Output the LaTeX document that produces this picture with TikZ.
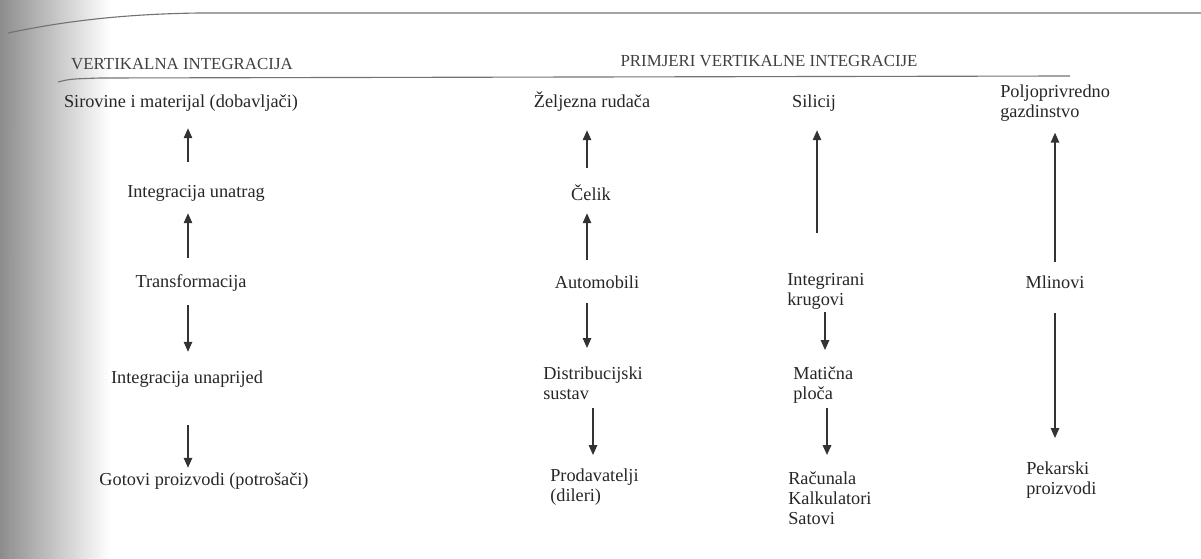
\documentclass[tikz,border=0pt]{standalone}
\usepackage{fontspec}
\setmainfont{Liberation Serif}
\usetikzlibrary{positioning}
\usetikzlibrary{arrows.meta}
\tikzset{
    lbl/.style={inner sep=0pt, anchor=base, text height=9.5pt, text depth=3pt,
                font=\fontsize{13}{14.2}\selectfont, text=black!85},
    mlbl/.style={inner sep=0pt, anchor=north west, align=left,
                font=\fontsize{13}{14.2}\selectfont, text=black!85},
    head/.style={inner sep=0pt, anchor=base, font=\fontsize{12}{14}\selectfont, text=black!75},
    arr/.style={draw=black!80, line width=0.9pt, -{Triangle[length=7pt,width=6pt]}},
    rule/.style={draw=black!55, line width=0.8pt}
}

\begin{document}
\begin{tikzpicture}[x=0.25mm, y=-0.25mm]
            \useasboundingbox (0,0) rectangle (1201,559);
            % scanned page edge
            \shade[left color=black!45, right color=white] (0,0) rectangle (110,559);
            \draw[draw=black!40, line width=1pt] (14,32) -- (14,125);
            \draw[draw=black!40, line width=1pt] (10,258) -- (10,559);
            \draw[rule] (8,33) .. controls (60,22) and (120,14) .. (200,13) -- (1201,13);
            \draw[rule] (58,82) .. controls (70,79) .. (100,78) -- (1070,76);

            \node (vi) [head] at (182,70)  {VERTIKALNA INTEGRACIJA};
            \node (pv) [head] at (769,67)  {PRIMJERI VERTIKALNE INTEGRACIJE};

            % columns of the arrows
            \coordinate (c1) at (188,0);
            \coordinate (c2) at (587,0);
            \coordinate (c2b) at (593,0);
            \coordinate (c3) at (817,0);
            \coordinate (c3b) at (825,0);
            \coordinate (c3c) at (827,0);
            \coordinate (c4) at (1055,0);

            % vertikalna integracija
            \node (sir)   [lbl] at (181,108) {Sirovine i materijal (dobavljači)};
            \node (unat)  [lbl] at (196,198) {Integracija unatrag};
            \node (trans) [lbl] at (191,287) {Transformacija};
            \node (unap)  [lbl] at (187,383) {Integracija unaprijed};
            \node (got)   [lbl] at (204,485) {Gotovi proizvodi (potrošači)};

            \draw[arr, shorten <=5.65mm, shorten >=3.95mm] (unat.north -| c1)  -- (sir.south -| c1);
            \draw[arr, shorten <=3.9mm,  shorten >=2.7mm]  (trans.north -| c1) -- (unat.south -| c1);
            \draw[arr, shorten <=3.45mm, shorten >=4.4mm]  (trans.south -| c1) -- (unap.north -| c1);
            \draw[arr, shorten <=9.45mm, shorten >=0.9mm]  (unap.south -| c1)  -- (got.north -| c1);

            % zeljezo
            \node (zel)  [lbl]  at (592,108)   {Željezna rudača};
            \node (cel)  [lbl]  at (591,201)   {Čelik};
            \node (auto) [lbl]  at (597,288)   {Automobili};
            \node (dist) [mlbl] at (543,366.6) {Distribucijski\\sustav};
            \node (prod) [mlbl] at (550,468.6) {Prodavatelji\\(dileri)};

            \draw[arr, shorten <=4.9mm,  shorten >=4.45mm] (cel.north -| c2)   -- (zel.south -| c2);
            \draw[arr, shorten <=3.65mm, shorten >=1.95mm] (auto.north -| c2)  -- (cel.south -| c2);
            \draw[arr, shorten <=2.7mm,  shorten >=4.65mm] (auto.south -| c2)  -- (dist.north -| c2);
            \draw[arr, shorten <=2mm,    shorten >=3.4mm]  (dist.south -| c2b) -- (prod.north -| c2b);

            % silicij
            \node (sil) [lbl]  at (814,108)   {Silicij};
            \node (ik)  [mlbl] at (787,273.6) {Integrirani\\krugovi};
            \node (mp)  [mlbl] at (793,366.6) {Matična\\ploča};
            \node (rac) [mlbl] at (788,471.6) {Računala\\Kalkulatori\\Satovi};

            \draw[arr, shorten <=10.15mm, shorten >=4.45mm] (ik.north -| c3)  -- (sil.south -| c3);
            \draw[arr, shorten <=0.5mm,   shorten >=4.15mm] (ik.south -| c3b) -- (mp.north -| c3b);
            \draw[arr, line width=1.3pt, shorten <=1mm, shorten >=4.15mm] (mp.south -| c3c) -- (rac.north -| c3c);

            % poljoprivreda
            \node (pol) [mlbl] at (1000,84.6)  {Poljoprivredno\\gazdinstvo};
            \node (mli) [lbl]  at (1055,288)   {Mlinovi};
            \node (pek) [mlbl] at (1026,461.6) {Pekarski\\proizvodi};

            \draw[arr, shorten <=3.15mm, shorten >=2.75mm] (mli.north -| c4) -- (pol.south -| c4);
            \draw[arr, shorten <=5.2mm,  shorten >=5.9mm]  (mli.south -| c4) -- (pek.north -| c4);
\end{tikzpicture}
\end{document}
